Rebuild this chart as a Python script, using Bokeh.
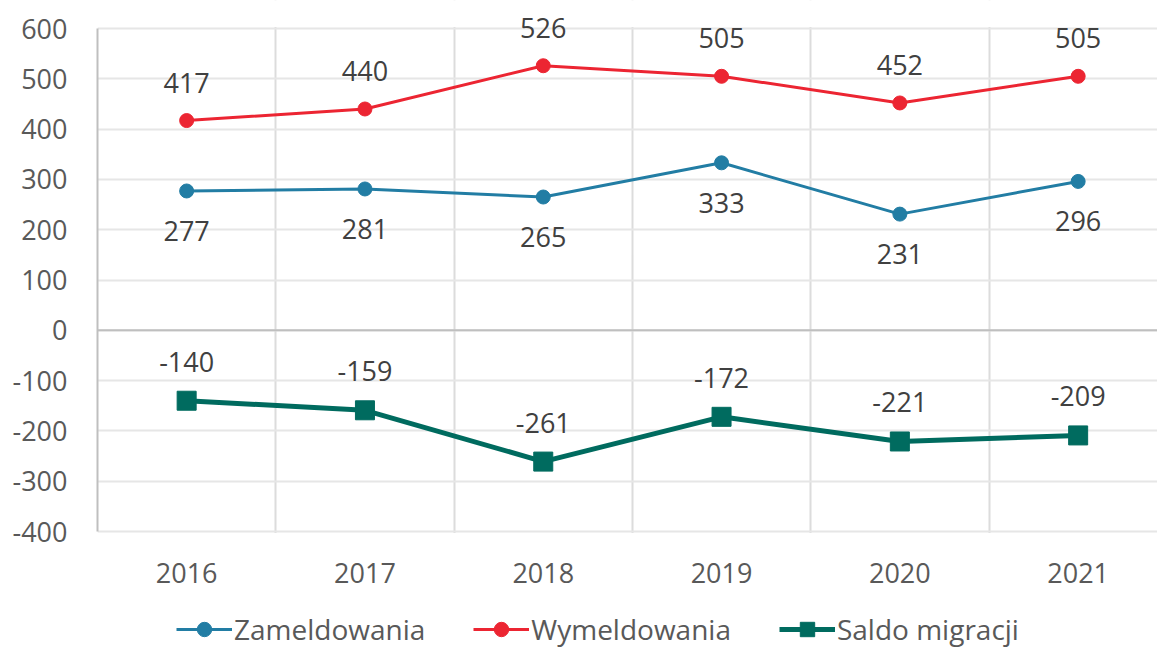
from bokeh.plotting import figure
from bokeh.models import (Range1d, FixedTicker, Legend, LegendItem, ColumnDataSource,
                          LabelSet, Span, BoxAnnotation)
from bokeh.core.properties import value
from bokeh.embed import file_html
from bokeh.resources import INLINE

years = ["2016", "2017", "2018", "2019", "2020", "2021"]
zameldowania = [277, 281, 265, 333, 231, 296]
wymeldowania = [417, 440, 526, 505, 452, 505]
saldo = [-140, -159, -261, -172, -221, -209]
y_ticks = [-400, -300, -200, -100, 0, 100, 200, 300, 400, 500, 600]

BLUE = "#227DA4"
RED = "#EC2532"
TEAL = "#006B5F"
TXT = "#595959"
FONT = "Open Sans"
FS = "27px"

xs = [i + 0.5 for i in range(len(years))]
y_min, y_max = y_ticks[0], y_ticks[-1]

p = figure(width=1157, height=648, output_backend="svg", toolbar_location=None,
           x_range=Range1d(0, 5.945), y_range=Range1d(-632.6, 655.7),
           min_border_left=97, min_border_top=0, min_border_right=0,
           min_border_bottom=0)
p.outline_line_color = None
p.background_fill_color = "white"

# y axis
p.yaxis.ticker = FixedTicker(ticks=y_ticks)
p.yaxis.major_label_overrides = {t: str(t) for t in y_ticks}
p.yaxis.bounds = (y_min, y_max)
p.yaxis.major_tick_line_color = None
p.yaxis.minor_tick_line_color = None
p.yaxis.major_tick_out = 0
p.yaxis.major_tick_in = 0
p.yaxis.axis_line_color = "#BFBFBF"
p.yaxis.axis_line_width = 2
p.yaxis.major_label_text_font = FONT
p.yaxis.major_label_text_font_size = FS
p.yaxis.major_label_text_color = TXT
p.yaxis.major_label_standoff = 30

# x axis hidden; year labels drawn as text under the plot area
p.xaxis.visible = False

p.ygrid.ticker = FixedTicker(ticks=y_ticks)
p.ygrid.grid_line_color = "#E6E6E6"
p.ygrid.grid_line_width = 2
p.xgrid.ticker = FixedTicker(ticks=[1, 2, 3, 4, 5])
p.xgrid.grid_line_color = "#DCDCDC"
p.xgrid.grid_line_width = 2

# mask grid lines outside the value range (above 600 and below -400)
p.add_layout(BoxAnnotation(top=y_min - 3, fill_color="white", fill_alpha=1,
                           line_alpha=0, level="underlay"))
p.add_layout(BoxAnnotation(bottom=y_max + 3, fill_color="white", fill_alpha=1,
                           line_alpha=0, level="underlay"))

p.add_layout(Span(location=0, dimension="width", line_color="#BFBFBF", line_width=2))

src = ColumnDataSource(dict(x=xs, z=zameldowania, w=wymeldowania, s=saldo,
                            zl=[str(v) for v in zameldowania],
                            wl=[str(v) for v in wymeldowania],
                            sl=[str(v) for v in saldo],
                            yr=years, ybase=[y_min] * len(years)))

lz = p.line("x", "z", source=src, line_color=BLUE, line_width=3)
mz = p.scatter("x", "z", source=src, marker="circle", size=14, fill_color=BLUE, line_color=BLUE)
lw = p.line("x", "w", source=src, line_color=RED, line_width=3)
mw = p.scatter("x", "w", source=src, marker="circle", size=14, fill_color=RED, line_color=RED)
ls = p.line("x", "s", source=src, line_color=TEAL, line_width=5)
ms = p.scatter("x", "s", source=src, marker="square", size=19, fill_color=TEAL, line_color=TEAL)

for col, lab, off in [("z", "zl", -40), ("w", "wl", 38), ("s", "sl", 39)]:
    p.add_layout(LabelSet(x="x", y=col, text=lab, source=src, y_offset=off,
                          text_font=value(FONT), text_font_size=value(FS),
                          text_color="#404040", text_align="center",
                          text_baseline="middle"))

p.add_layout(LabelSet(x="x", y="ybase", text="yr", source=src, y_offset=-41,
                      text_font=value(FONT), text_font_size=value(FS),
                      text_color=TXT, text_align="center", text_baseline="middle"))

legend = Legend(items=[LegendItem(label="Zameldowania", renderers=[lz, mz]),
                       LegendItem(label="Wymeldowania", renderers=[lw, mw]),
                       LegendItem(label="Saldo migracji", renderers=[ls, ms])],
                orientation="horizontal", location=(79, 0),
                border_line_alpha=0, background_fill_alpha=0,
                label_text_font=FONT, label_text_font_size="28px",
                label_text_color=TXT, glyph_width=56, glyph_height=36,
                spacing=48, label_standoff=2, margin=0, padding=0)
p.add_layout(legend, "center")

open("out.html", "w").write(file_html(p, INLINE))
